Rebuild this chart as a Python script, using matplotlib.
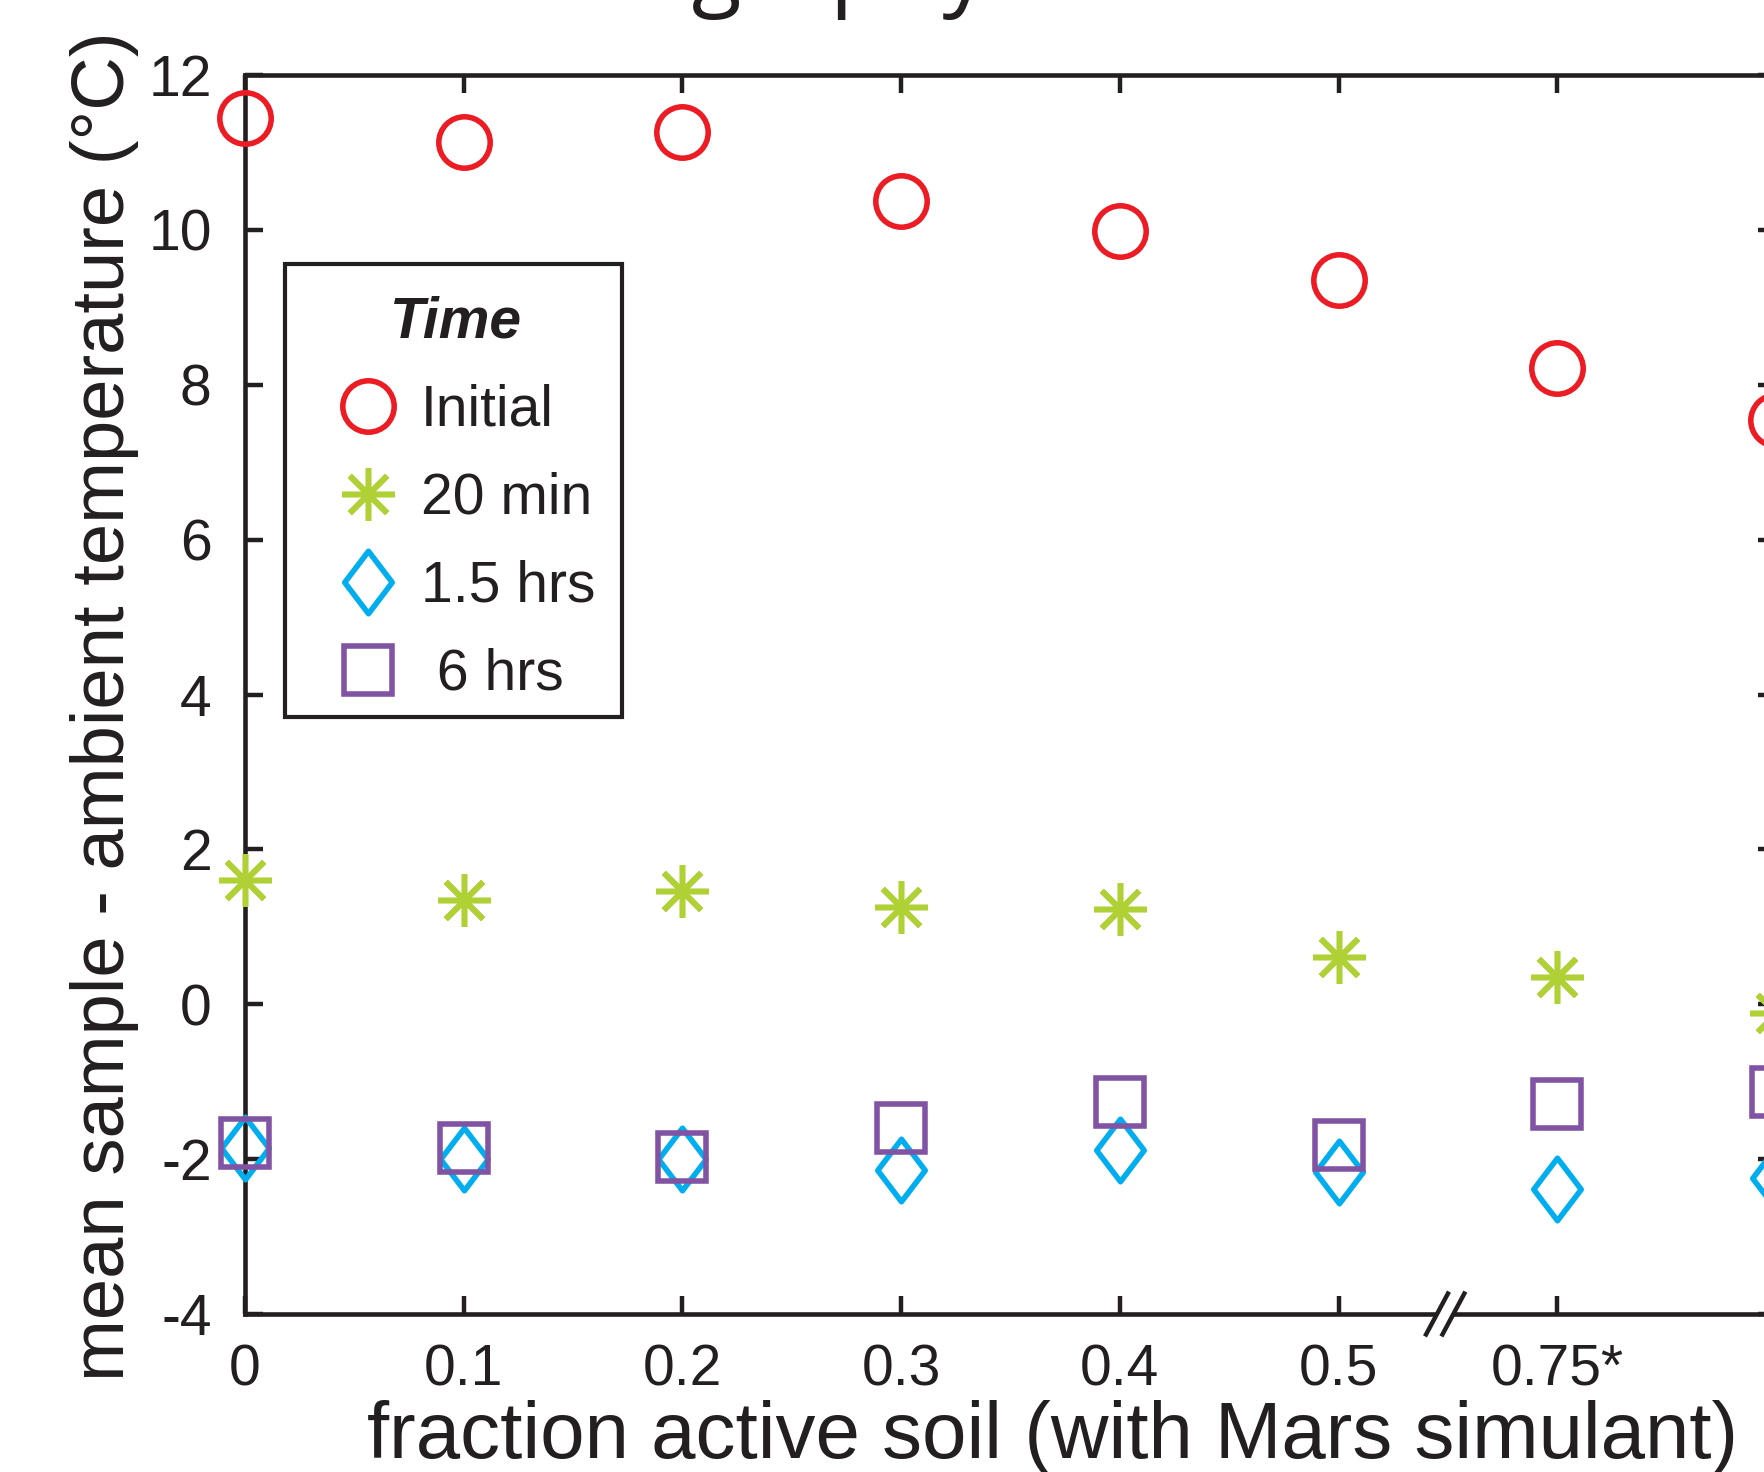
"""
Mean sample - ambient temperature vs fraction of active soil (mixed with
Mars simulant), at four times after the start of the run.
"""
import numpy as np
import matplotlib
matplotlib.use("Agg")
import matplotlib.pyplot as plt
from matplotlib.path import Path
from matplotlib.patches import Rectangle
from matplotlib.transforms import blended_transform_factory

plt.rcParams["font.family"] = ["Liberation Sans", "DejaVu Sans"]
plt.rcParams["axes.unicode_minus"] = False

# ---- data ----
x_labels = ["0", "0.1", "0.2", "0.3", "0.4", "0.5", "0.75*", ""]   # last column sits on the right spine
y_ticks = [-4, -2, 0, 2, 4, 6, 8, 10, 12]

initial = [11.44, 11.14, 11.27, 10.37, 9.99, 9.35, 8.22, 7.55]
min20 = [1.61, 1.35, 1.46, 1.26, 1.23, 0.61, 0.35, -0.11]
hrs15 = [-1.86, -2.00, -2.00, -2.14, -1.88, -2.17, -2.39, -2.24]
hrs6 = [-1.79, -1.86, -1.97, -1.60, -1.26, -1.82, -1.29, -1.13]

series_labels = ["Initial", "20 min", "1.5 hrs", " 6 hrs"]

INK = "#231F20"
RED = "#EC1C24"
GREEN = "#AFD136"
BLUE = "#00AEEF"
PURPLE = "#8154A3"

W, H = 1764, 1472
FS = 41      # tick / legend text

# tall diamond like the MATLAB one
diamond = Path([(0, 0.5), (0.38, 0), (0, -0.5), (-0.38, 0), (0, 0.5)],
               [Path.MOVETO, Path.LINETO, Path.LINETO, Path.LINETO, Path.CLOSEPOLY])


def main():
    fig = plt.figure(figsize=(W / 100, H / 100), dpi=100)
    # axes run past the right edge: the figure is a crop of a wider panel
    ax = fig.add_axes([245 / W, 1 - 1314 / H, (1776 - 245) / W, 1239 / H])

    xs = np.arange(len(x_labels))
    kw = dict(ls="none", mew=4.0, mfc="none", clip_on=False, zorder=4)
    h1, = ax.plot(xs, initial, "o", ms=37, mec=RED, label=series_labels[0], **kw)
    h2, = ax.plot(xs, min20, marker=(8, 2, 0), ms=38, mec=GREEN, label=series_labels[1], **kw)
    h3, = ax.plot(xs, hrs15, marker=diamond, ms=45, mec=BLUE, label=series_labels[2], **kw)
    h4, = ax.plot(xs, hrs6, "s", ms=34, mec=PURPLE, label=series_labels[3], **kw)

    ax.set_xlim(0, len(x_labels) - 1)
    ax.set_ylim(y_ticks[0], y_ticks[-1])
    ax.set_xticks(xs)
    ax.set_xticklabels(x_labels)
    ax.set_yticks(y_ticks)
    ax.set_yticklabels([str(v) for v in y_ticks])
    ax.tick_params(direction="in", length=13, width=3.2, colors=INK,
                   labelsize=FS, top=True, right=True)
    ax.tick_params(axis="x", pad=21)
    ax.tick_params(axis="y", pad=24)
    for sp in ax.spines.values():
        sp.set_linewidth(3.3)
        sp.set_color(INK)

    # axis break between 0.5 and 0.75*
    tr = blended_transform_factory(ax.transData, ax.transAxes)
    ax.plot([5.45, 5.525], [0, 0], color="white", lw=6, transform=tr,
            clip_on=False, zorder=5, solid_capstyle="butt")
    for xb in (5.45, 5.525):
        ax.plot([xb - 0.05, xb + 0.05], [-0.0165, 0.0165], color=INK, lw=3.2,
                transform=tr, clip_on=False, zorder=6)

    # legend without its own frame; the box is drawn separately so that the
    # top and bottom padding can differ as in the original
    leg = ax.legend(handles=[h1, h2, h3, h4], title="Time", fontsize=FS,
                    title_fontproperties={"size": FS, "weight": "bold", "style": "italic"},
                    loc="upper left", bbox_to_anchor=(285 / W, 1 - 264 / H),
                    bbox_transform=fig.transFigure, borderaxespad=0,
                    borderpad=0.55, labelspacing=0.6, handlelength=1.83,
                    handletextpad=0.0, numpoints=1, frameon=False)
    for t in leg.get_texts():
        t.set_color(INK)
    leg.get_title().set_color(INK)
    fig.add_artist(Rectangle((285 / W, 1 - 717 / H), (622 - 285) / W, (717 - 264) / H,
                             transform=fig.transFigure, fill=False, lw=3, ec=INK))

    fig.text(1053 / W, 1 - 1458 / H, "fraction active soil (with Mars simulant)",
             fontsize=57.5, color=INK, ha="center", va="baseline")
    fig.text(124 / W, 1 - 706 / H, "mean sample - ambient temperature (°C)",
             fontsize=53.5, color=INK, rotation=90, rotation_mode="anchor",
             ha="center", va="baseline")
    # panel title, cropped off at the top edge (only the descenders show)
    fig.text(672 / W, 1 + 2 / H, "Thermography", fontsize=66, color=INK,
             family=["Open Sans", "DejaVu Sans"], ha="center", va="baseline")

    fig.savefig("out.png", dpi=100)


if __name__ == "__main__":
    main()
